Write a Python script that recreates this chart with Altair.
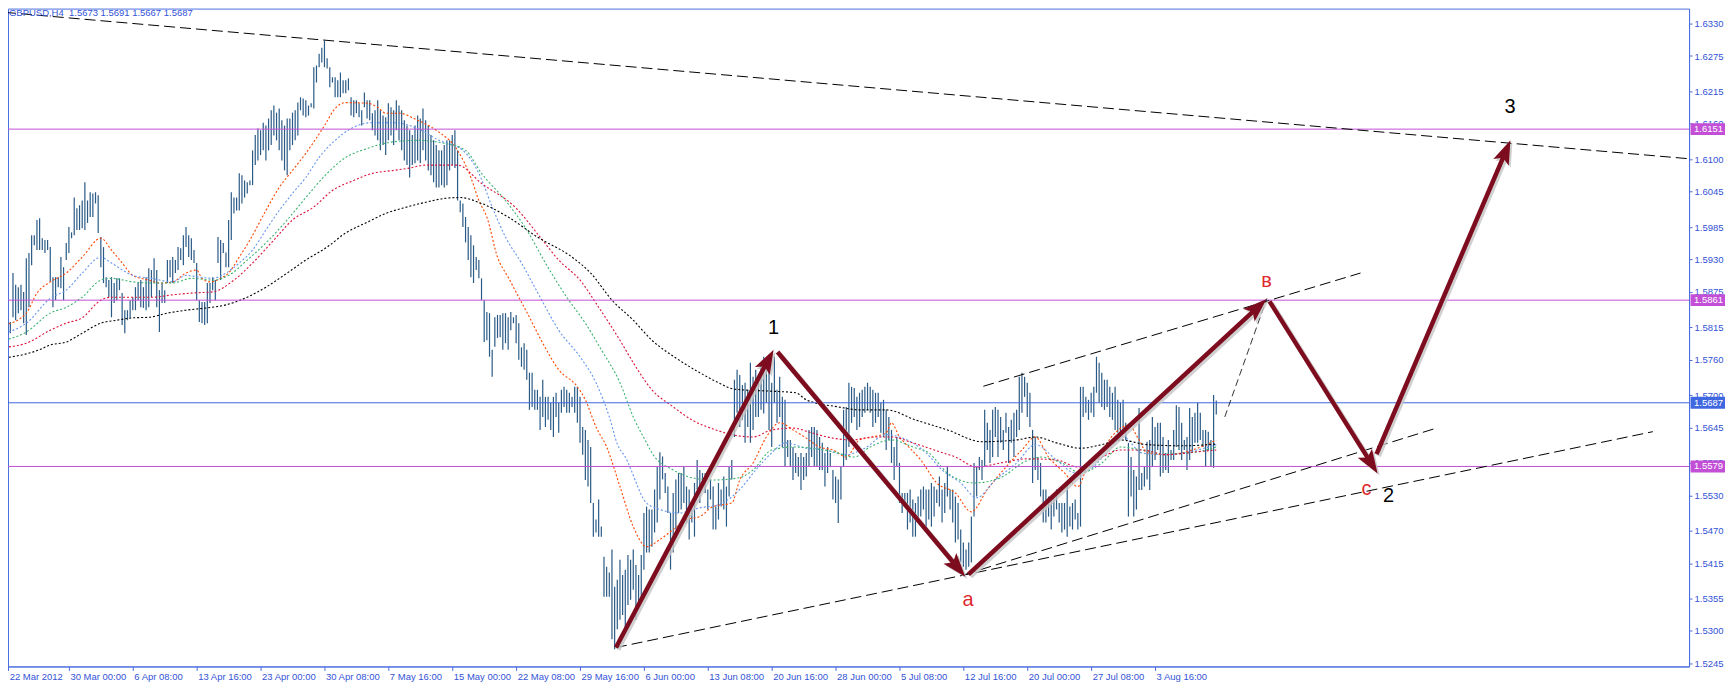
import math
import altair as alt
import pandas as pd

# ---------------- data (prices in pips: 15822 -> 1.5822) ----------------
bar_high = [
 15822,15824,15824,15907,15887,15883,15887,15875,15932,15941,
 15971,15971,15997,16000,15966,15963,15963,15951,15900,15900,
 15900,15934,15917,15958,15985,15976,16035,16017,16022,16030,
 16061,16030,16044,16042,16044,16039,15968,15951,15900,15895,
 15900,15890,15898,15898,15873,15844,15844,15861,15866,15883,
 15890,15895,15883,15900,15915,15912,15932,15912,15878,15890,
 15878,15929,15929,15934,15929,15951,15949,15971,15985,15971,
 15966,15946,15924,15861,15858,15858,15890,15890,15900,15895,
 15968,15963,15958,15942,15997,16044,16035,16035,16076,16073,
 16064,16061,16064,16115,16141,16152,16149,16162,16157,16169,
 16183,16191,16179,16186,16166,16157,16169,16169,16179,16183,
 16196,16205,16203,16200,16191,16195,16256,16259,16279,16289,
 16301,16271,16256,16239,16239,16234,16247,16234,16234,16237,
 16205,16200,16200,16195,16183,16213,16200,16200,16178,16183,
 16200,16183,16174,16171,16195,16188,16183,16200,16191,16183,
 16166,16157,16149,16141,16157,16174,16169,16186,16166,16157,
 16141,16132,16124,16115,16115,16124,16132,16132,16141,16149,
 16115,16030,16025,16002,15985,15971,15954,15934,15929,15898,
 15861,15841,15839,15777,15832,15836,15836,15839,15839,15832,
 15841,15832,15836,15822,15781,15788,15777,15738,15738,15709,
 15709,15697,15726,15697,15697,15687,15697,15704,15687,15709,
 15714,15709,15704,15697,15714,15714,15697,15646,15641,15624,
 15612,15517,15489,15523,15477,15426,15409,15399,15438,15375,
 15387,15421,15395,15404,15429,15421,15438,15412,15395,15429,
 15500,15511,15506,15506,15540,15579,15603,15596,15568,15545,
 15500,15534,15557,15568,15568,15579,15545,15540,15506,15551,
 15590,15573,15568,15568,15540,15557,15545,15511,15551,15540,
 15562,15545,15579,15590,15726,15743,15734,15717,15721,15709,
 15755,15731,15743,15731,15755,15765,15755,15748,15721,15765,
 15709,15731,15697,15692,15624,15624,15612,15602,15595,15602,
 15595,15602,15641,15646,15646,15641,15629,15619,15602,15612,
 15602,15573,15562,15557,15579,15675,15680,15721,15714,15712,
 15697,15704,15709,15714,15721,15714,15709,15704,15704,15687,
 15692,15675,15663,15641,15612,15629,15585,15534,15534,15534,
 15540,15523,15517,15528,15540,15545,15540,15540,15551,15545,
 15540,15562,15540,15551,15579,15540,15540,15528,15517,15472,
 15450,15438,15450,15494,15585,15579,15595,15590,15675,15653,
 15641,15675,15680,15675,15663,15641,15670,15646,15658,15670,
 15675,15731,15738,15731,15721,15704,15641,15629,15595,15585,
 15540,15540,15528,15528,15528,15540,15517,15517,15517,15551,
 15511,15517,15523,15500,15714,15714,15697,15692,15704,15714,
 15765,15755,15738,15726,15726,15714,15704,15714,15692,15687,
 15692,15653,15619,15595,15573,15562,15678,15568,15579,15621,
 15624,15663,15646,15653,15653,15629,15602,15624,15607,15641,
 15683,15680,15653,15624,15629,15678,15663,15670,15687,15670,
 15641,15641,15638,15624,15700,15691]
bar_low = [
 15785,15802,15805,15832,15827,15839,15844,15822,15802,15849,
 15920,15954,15946,15946,15946,15941,15946,15892,15849,15861,
 15883,15881,15861,15929,15941,15966,15971,15980,15980,15983,
 15980,15992,16002,16002,16025,15975,15917,15890,15883,15866,
 15832,15856,15861,15878,15819,15805,15827,15831,15844,15844,
 15861,15849,15848,15844,15849,15866,15890,15849,15807,15856,
 15856,15890,15900,15890,15907,15912,15929,15920,15951,15934,
 15929,15924,15861,15824,15822,15819,15822,15856,15878,15861,
 15924,15895,15941,15917,15917,15963,16008,16013,16013,16025,
 16035,16042,16056,16056,16090,16098,16107,16115,16098,16115,
 16124,16140,16132,16115,16098,16081,16073,16115,16124,16132,
 16140,16183,16174,16171,16174,16188,16186,16230,16256,16264,
 16256,16254,16222,16230,16205,16205,16205,16212,16212,16217,
 16174,16171,16178,16171,16157,16188,16169,16166,16149,16140,
 16132,16115,16124,16107,16132,16140,16124,16149,16132,16115,
 16098,16090,16069,16090,16093,16098,16093,16115,16098,16081,
 16073,16061,16052,16052,16056,16052,16056,16081,16090,16085,
 16030,16010,15985,15959,15929,15900,15890,15912,15898,15861,
 15790,15793,15765,15731,15782,15797,15798,15777,15788,15777,
 15810,15822,15788,15760,15748,15743,15726,15675,15680,15675,
 15675,15641,15663,15646,15658,15641,15629,15663,15636,15670,
 15680,15670,15670,15680,15670,15653,15619,15599,15556,15545,
 15517,15460,15467,15460,15460,15358,15358,15358,15286,15269,
 15303,15319,15327,15303,15344,15353,15370,15319,15336,15353,
 15404,15433,15433,15443,15467,15484,15523,15557,15534,15500,
 15404,15433,15472,15500,15506,15517,15484,15455,15484,15460,
 15540,15517,15545,15534,15506,15523,15472,15472,15489,15511,
 15506,15477,15528,15557,15629,15670,15646,15658,15619,15646,
 15619,15641,15663,15663,15675,15669,15687,15641,15612,15687,
 15653,15663,15612,15578,15595,15578,15556,15568,15562,15539,
 15556,15562,15578,15595,15578,15578,15573,15573,15545,15568,
 15578,15523,15517,15483,15523,15578,15590,15612,15653,15663,
 15641,15646,15663,15670,15675,15670,15646,15653,15663,15636,
 15629,15607,15624,15585,15556,15578,15517,15500,15511,15472,
 15484,15460,15460,15484,15494,15506,15472,15489,15477,15494,
 15517,15511,15484,15500,15528,15506,15484,15450,15455,15416,
 15409,15404,15409,15416,15494,15528,15573,15556,15578,15607,
 15585,15595,15629,15595,15619,15607,15636,15585,15619,15595,
 15629,15641,15670,15697,15663,15646,15551,15573,15556,15528,
 15484,15484,15494,15472,15494,15506,15484,15467,15472,15460,
 15477,15472,15489,15472,15477,15663,15670,15658,15670,15663,
 15704,15687,15680,15675,15680,15663,15658,15641,15636,15629,
 15641,15624,15494,15528,15494,15506,15539,15539,15545,15557,
 15539,15578,15590,15607,15562,15568,15573,15568,15590,15590,
 15612,15607,15590,15607,15573,15590,15602,15619,15619,15624,
 15612,15578,15607,15578,15577,15667]

# moving averages read at sparse bars: (bar index, pips)
ma_orange = [(0,15819),(8,15839),(12,15873),(17,15892),(23,15907),(29,15934),(36,15966),(40,15946),
 (44,15924),(48,15903),(54,15895),(58,15890),(63,15892),(68,15907),(72,15912),(74,15898),(77,15892),
 (81,15898),(84,15907),(88,15934),(92,15963),(98,16013),(103,16052),(108,16081),(113,16110),(120,16157),
 (124,16186),(128,16196),(136,16195),(140,16188),(143,16178),(148,16178),(155,16166),(162,16149),
 (170,16115),(175,16069),(178,16030),(181,16002),(185,15934),(189,15900),(193,15866),(197,15832),
 (202,15788),(208,15743),(215,15714),(218,15692),(222,15646),(226,15612),(231,15545),(236,15477),
 (241,15443),(246,15455),(251,15472),(256,15489),(261,15494),(266,15511),(273,15517),(276,15556),
 (281,15585),(286,15629),(291,15653),(296,15641),(301,15627),(306,15612),(311,15607),(316,15595),
 (321,15624),(326,15629),(331,15636),(333,15653),(336,15629),(338,15619),(344,15590),(350,15551),
 (357,15534),(363,15502),(369,15540),(375,15573),(382,15607),(387,15629),(392,15595),(398,15568),
 (403,15545),(407,15585),(412,15607),(417,15636),(422,15649),(426,15624),(429,15602),(436,15599),
 (442,15602),(448,15610),(455,15624)]
ma_blue = [(0,15805),(8,15822),(17,15864),(23,15878),(29,15907),(36,15934),(40,15924),(48,15903),
 (55,15898),(63,15892),(68,15903),(73,15900),(78,15898),(83,15907),(88,15924),(93,15946),(98,15980),
 (103,16013),(108,16042),(113,16069),(118,16103),(124,16132),(130,16152),(138,16162),(146,16162),
 (155,16152),(163,16132),(172,16115),(178,16076),(183,16019),(188,15968),(194,15924),(201,15866),
 (208,15810),(216,15765),(222,15721),(227,15663),(230,15617),(233,15595),(241,15517),(246,15506),
 (253,15500),(261,15509),(268,15514),(276,15540),(282,15573),(288,15602),(293,15619),(301,15610),
 (308,15607),(316,15599),(323,15610),(331,15633),(336,15629),(341,15619),(346,15602),(352,15573),
 (359,15551),(365,15526),(372,15556),(380,15585),(387,15616),(395,15590),(402,15568),(407,15573),
 (414,15602),(420,15629),(427,15602),(436,15599),(448,15607),(455,15616)]
ma_green = [(0,15793),(8,15807),(17,15839),(23,15849),(29,15866),(36,15895),(40,15898),(48,15892),
 (55,15890),(63,15890),(70,15898),(78,15895),(84,15903),(91,15929),(98,15958),(106,15997),(113,16035),
 (121,16076),(128,16103),(136,16118),(145,16129),(155,16132),(165,16127),(173,16115),(179,16076),
 (188,16030),(196,15980),(203,15924),(211,15866),(218,15822),(224,15777),(231,15721),(236,15663),
 (241,15619),(243,15602),(251,15573),(258,15560),(266,15556),(276,15560),(281,15573),(288,15607),
 (296,15612),(303,15610),(311,15604),(319,15595),(325,15612),(333,15624),(341,15612),(347,15602),
 (354,15568),(364,15551),(374,15560),(383,15587),(389,15595),(397,15585),(404,15568),(412,15585),
 (419,15612),(427,15607),(436,15600),(448,15604),(455,15612)]
ma_crimson = [(0,15781),(8,15788),(17,15810),(23,15822),(29,15831),(36,15861),(40,15866),(48,15866),
 (55,15866),(63,15870),(70,15873),(78,15875),(86,15895),(93,15924),(101,15963),(108,15997),(116,16019),
 (123,16047),(131,16064),(138,16076),(146,16081),(152,16085),(158,16090),(164,16090),(170,16090),
 (179,16059),(192,16017),(201,15968),(208,15929),(216,15895),(223,15849),(231,15793),(236,15755),
 (243,15709),(251,15680),(258,15658),(267,15641),(273,15633),(281,15629),(288,15641),(296,15644),
 (303,15636),(311,15627),(318,15624),(326,15629),(333,15629),(341,15619),(351,15604),(357,15595),
 (365,15578),(374,15585),(384,15592),(395,15590),(403,15578),(412,15595),(419,15607),(427,15607),
 (436,15599),(448,15604),(455,15607)]
ma_black = [(0,15763),(13,15777),(17,15785),(23,15790),(29,15805),(36,15822),(42,15827),(48,15831),
 (54,15832),(61,15839),(68,15844),(76,15848),(83,15853),(91,15866),(98,15883),(106,15907),(113,15929),
 (121,15951),(128,15975),(136,15993),(143,16008),(151,16019),(158,16027),(166,16034),(171,16035),
 (179,16025),(189,16002),(200,15968),(213,15934),(220,15907),(228,15861),(236,15827),(243,15793),
 (252,15763),(261,15738),(268,15721),(274,15710),(286,15707),(297,15704),(301,15692),(313,15680),
 (321,15675),(331,15675),(342,15658),(354,15641),(367,15621),(380,15624),(387,15629),(395,15619),
 (404,15610),(412,15616),(419,15624),(429,15616),(442,15614),(455,15617)]

ma_names = ["orange", "blue", "green", "crimson", "black"]
ma_colors = ["#ff4500", "#6495ed", "#3cb371", "#dc143c", "#000000"]

# horizontal levels
level_prices = [1.6151, 1.5861, 1.5579, 1.5687]
level_colors = ["#c24fd6", "#c24fd6", "#c24fd6", "#3f67df"]

# dashed trend lines: (bar, pips) -> (bar, pips)
trend_lines = [((0, 16349), (632, 16101)),
               ((229.5, 15272), (619, 15638)),
               ((360.7, 15396), (537.7, 15644)),
               ((367.5, 15715), (509.2, 15907))]
proj_line = [((458.2, 15663), (474, 15864))]

# wave arrows
arrows = [((229.5, 15272), (288.7, 15777)),
          ((290.2, 15773), (360.7, 15392)),
          ((361.9, 15396), (473.9, 15863)),
          ((475.0, 15859), (515.6, 15567)),
          ((515.2, 15600), (565.5, 16132))]

wave_text = ["1", "а", "в", "с", "2", "3"]
wave_bar = [288.7, 361.8, 473.9, 511.4, 519.7, 565.4]
wave_pips = [15814, 15353, 15893, 15541, 15529, 16188]
wave_color = ["#000000", "#e0282e", "#e0282e", "#e0282e", "#000000", "#000000"]

x_tick_bars = [1.2] + [24 * k for k in range(1, 19)]
x_tick_labels = ["22 Mar 2012", "30 Mar 00:00", "6 Apr 08:00", "13 Apr 16:00", "23 Apr 00:00",
                 "30 Apr 08:00", "7 May 16:00", "15 May 00:00", "22 May 08:00", "29 May 16:00",
                 "6 Jun 00:00", "13 Jun 08:00", "20 Jun 16:00", "28 Jun 00:00", "5 Jul 08:00",
                 "12 Jul 16:00", "20 Jul 00:00", "27 Jul 08:00", "3 Aug 16:00"]
y_ticks = [1.6330, 1.6275, 1.6215, 1.6160, 1.6100, 1.6045, 1.5985, 1.5930, 1.5875, 1.5815,
           1.5760, 1.5700, 1.5645, 1.5585, 1.5530, 1.5470, 1.5415, 1.5355, 1.5300, 1.5245]

title_text = "GBPUSD,H4\u00a0 1.5673 1.5691 1.5667 1.5687"

# ---------------- layout / styles ----------------
P = 10000.0
FONT = "Liberation Sans"
X0, X1 = 1.125, 632.6
Y0, Y1 = 1.52399, 1.63554
W, H = 1684, 659
PXX = W / (X1 - X0)
PXY = H / (Y1 - Y0)
AXL = "#4a6ee0"
AXC = "#3353d6"
BAR = "#2a5a86"
ARROW = "#7e0c1f"
SHADOW = "#c4c4c4"

xs = alt.Scale(domain=[X0, X1], nice=False, zero=False)
ys = alt.Scale(domain=[Y0, Y1], nice=False, zero=False)

label_expr = "[" + ",".join("'%s'" % s for s in x_tick_labels) + "][round(datum.value/24)]"
x_axis = alt.Axis(values=x_tick_bars, labelExpr=label_expr, orient="bottom", grid=False,
                  tickSize=4, labelPadding=1, labelAlign="left", labelFont=FONT,
                  labelFontSize=9.5, labelColor=AXC, domainColor=AXL, tickColor=AXL,
                  labelFlush=False, labelOverlap=False, title=None, labelOffset=1)
y_axis = alt.Axis(values=y_ticks, format=".4f", orient="right", grid=False, tickSize=3,
                  labelPadding=2, labelFont=FONT, labelFontSize=9.5, labelColor=AXC,
                  domainColor=AXL, tickColor=AXL, labelOverlap=False, title=None,
                  labelBaseline="middle")


def X(field):
    return alt.X(field, scale=xs, axis=x_axis)


def Y(field):
    return alt.Y(field, scale=ys, axis=y_axis)


bars_df = pd.DataFrame({"i": list(range(len(bar_high))),
                        "hi": [v / P for v in bar_high],
                        "lo": [v / P for v in bar_low]})
bars = alt.Chart(bars_df).mark_rule(color=BAR, strokeWidth=1.2).encode(
    x=X("i:Q"), y=Y("hi:Q"), y2="lo:Q")

ma_rows = []
for name, pts in zip(ma_names, [ma_orange, ma_blue, ma_green, ma_crimson, ma_black]):
    for b, v in pts:
        ma_rows.append({"ma": name, "i": b, "v": v / P})
ma_df = pd.DataFrame(ma_rows)
mas = alt.Chart(ma_df).mark_line(strokeDash=[2, 2], strokeWidth=1.1, interpolate="monotone").encode(
    x=X("i:Q"), y=Y("v:Q"),
    color=alt.Color("ma:N", scale=alt.Scale(domain=ma_names, range=ma_colors), legend=None),
    order="i:Q")

lv_df = pd.DataFrame({"p": level_prices, "c": level_colors})
levels = alt.Chart(lv_df).mark_rule(strokeWidth=1).encode(
    y=Y("p:Q"), color=alt.Color("c:N", scale=None))


def seg_df(segs):
    return pd.DataFrame({"x": [a[0] for a, b in segs], "y": [a[1] / P for a, b in segs],
                         "x2": [b[0] for a, b in segs], "y2": [b[1] / P for a, b in segs]})


tl = alt.Chart(seg_df(trend_lines)).mark_rule(color="#000000", strokeWidth=1,
                                               strokeDash=[11, 5], clip=True).encode(
    x=X("x:Q"), y=Y("y:Q"), x2="x2:Q", y2="y2:Q")
pl = alt.Chart(seg_df(proj_line)).mark_rule(color="#000000", strokeWidth=0.8,
                                            strokeDash=[7, 4], clip=True).encode(
    x=X("x:Q"), y=Y("y:Q"), x2="x2:Q", y2="y2:Q")

# arrows: shafts shortened so the head carries the tip
shaft_rows, head_rows = [], []
for (xa, pa), (xb, pb) in arrows:
    dx = (xb - xa) * PXX
    dy = -(pb - pa) / P * PXY
    L = math.hypot(dx, dy)
    back = 12.0 / L
    shaft_rows.append({"x": xa, "y": pa / P, "x2": xb - dx * back / PXX,
                       "y2": pb / P + dy * back / PXY})
    head_rows.append({"x": xb, "y": pb / P, "ang": math.degrees(math.atan2(dx, -dy)) % 360})
shaft_df = pd.DataFrame(shaft_rows)
head_df = pd.DataFrame(head_rows)
HEAD = "M0,0L0.42,1.2L0,0.95L-0.42,1.2Z"

shadow = alt.Chart(shaft_df).mark_rule(color=SHADOW, strokeWidth=5, xOffset=2, yOffset=2,
                                       x2Offset=2, y2Offset=2, opacity=0.8).encode(
    x=X("x:Q"), y=Y("y:Q"), x2="x2:Q", y2="y2:Q")
shafts = alt.Chart(shaft_df).mark_rule(color=ARROW, strokeWidth=4.5).encode(
    x=X("x:Q"), y=Y("y:Q"), x2="x2:Q", y2="y2:Q")
head_sh = alt.Chart(head_df).mark_point(shape=HEAD, size=1600, filled=True, color=SHADOW,
                                        opacity=0.8, xOffset=2, yOffset=2, strokeWidth=0).encode(
    x=X("x:Q"), y=Y("y:Q"), angle=alt.Angle("ang:Q", scale=None))
heads = alt.Chart(head_df).mark_point(shape=HEAD, size=1600, filled=True, color=ARROW,
                                      opacity=1, strokeWidth=0).encode(
    x=X("x:Q"), y=Y("y:Q"), angle=alt.Angle("ang:Q", scale=None))

wl_df = pd.DataFrame({"t": wave_text, "x": wave_bar, "y": [v / P for v in wave_pips], "c": wave_color})
wave_labels = alt.Chart(wl_df).mark_text(font=FONT, fontSize=20, baseline="middle", align="center").encode(
    x=X("x:Q"), y=Y("y:Q"), text="t:N", color=alt.Color("c:N", scale=None))

# price boxes on the right axis
box_df = pd.DataFrame({"p": level_prices, "c": level_colors,
                       "t": ["%.4f" % v for v in level_prices]})
BOX = "M-1,-0.34L1,-0.34L1,0.34L-1,0.34Z"
boxes = alt.Chart(box_df).mark_point(shape=BOX, size=1225, filled=True, opacity=1, strokeWidth=0).encode(
    x=alt.value(1703), y=Y("p:Q"), color=alt.Color("c:N", scale=None))
box_txt = alt.Chart(box_df).mark_text(font=FONT, fontSize=9.5, color="white", align="left",
                                      baseline="middle").encode(
    x=alt.value(1689), y=Y("p:Q"), text="t:N")

title = alt.Chart(pd.DataFrame({"t": [title_text]})).mark_text(
    font=FONT, fontSize=9.5, color=AXC, align="left", baseline="middle").encode(
    x=alt.value(1), y=alt.value(4), text="t:N")

chart = alt.layer(bars, mas, levels, tl, pl, shadow, head_sh, shafts, heads, wave_labels,
                  boxes, box_txt, title).properties(
    width=W, height=H, autosize=alt.AutoSizeParams(type="none"),
    padding={"left": 0, "top": 0, "right": 36, "bottom": 20},
    background="white"
).configure_view(stroke=AXL, strokeWidth=1)

chart.save("out.html", embed_options={"renderer": "svg", "actions": False})
